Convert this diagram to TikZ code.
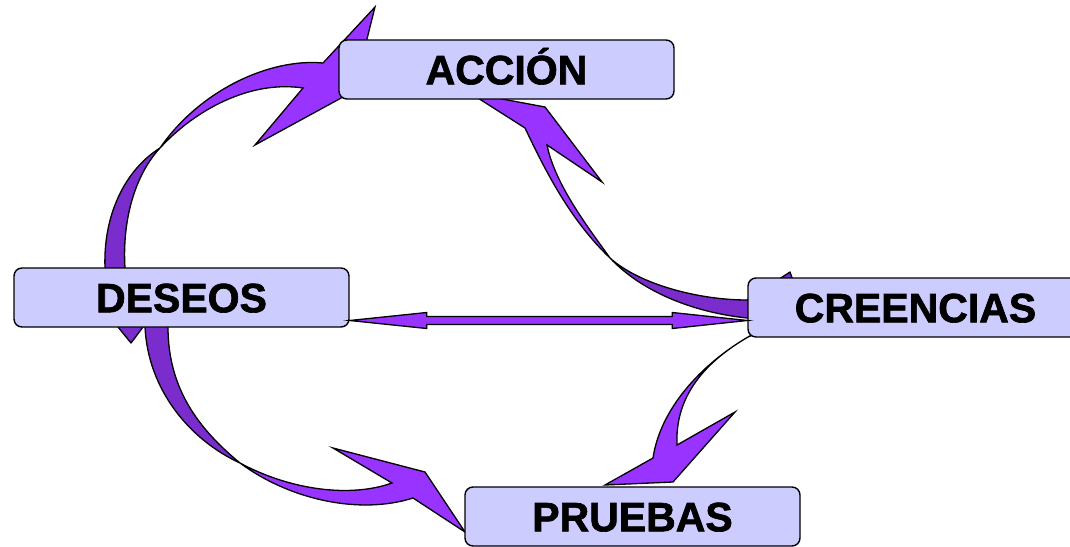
\documentclass[tikz,border=0pt]{standalone}
\usepackage{fontspec}
\setmainfont{Liberation Sans}
\newfontfamily\heavyfont{Liberation Sans}[BoldFeatures={FakeBold=1.6}]
\usetikzlibrary{calc}
\definecolor{boxfill}{HTML}{CCCCFF}
\definecolor{arrlight}{HTML}{9933FF}
\definecolor{arrdark}{RGB}{122,44,204}
\begin{document}
\begin{tikzpicture}[x=1pt,y=-1pt,
  box/.style={draw=black, line width=1.4pt, fill=boxfill, rounded corners=8pt,
    minimum width=335pt, minimum height=59pt, inner sep=0pt,
    font=\fontsize{41}{48}\heavyfont\bfseries, text height=29.5pt, text depth=0pt},
  lightband/.style={draw=black, line width=1.3pt, fill=arrlight, line join=miter},
  darkband/.style={draw=black, line width=1.3pt, fill=arrdark, line join=round}]
\useasboundingbox (0,0) rectangle (1070,546);

% ---- arrow DESEOS -> ACCION (left top)
\filldraw[darkband] (105,268) .. controls (103,215) and (125,170) .. (160,148)
  .. controls (135,175) and (122,220) .. (125,268) -- (143,327) -- (131,343) -- (118,327) -- cycle;
\filldraw[lightband] (160,148) .. controls (200,90) and (270,58) .. (323,63)
  -- (375,7) -- (354,91) -- (255,145) -- (303,88)
  .. controls (250,80) and (195,110) .. (160,148) -- cycle;

% ---- arrow DESEOS -> PRUEBAS (left bottom)
\filldraw[darkband] (143,315) -- (145,327) .. controls (148,390) and (190,440) .. (240,463)
  .. controls (200,430) and (168,390) .. (168,327) -- (167,315) -- cycle;
\filldraw[lightband] (240,463) .. controls (290,500) and (360,515) .. (413,498)
  -- (465,532) -- (425,472) -- (333,448) -- (392,483)
  .. controls (350,498) and (290,490) .. (240,463) -- cycle;

% ---- arrow CREENCIAS -> ACCION (right top)
\filldraw[darkband] (747,318) .. controls (690,312) and (640,290) .. (610,258)
  .. controls (640,285) and (700,300) .. (747,300) -- (790,272) -- (800,300) -- (780,318) -- cycle;
\filldraw[lightband] (610,258) .. controls (570,220) and (545,170) .. (525,128)
  -- (470,93) -- (545,107) -- (602,182) -- (547,145)
  .. controls (555,185) and (590,230) .. (610,258) -- cycle;

% ---- arrow CREENCIAS -> PRUEBAS (right bottom)
\filldraw[lightband] (760,330) -- (748,337) .. controls (700,365) and (660,410) .. (653,458)
  -- (605,485) -- (673,482) -- (735,412) -- (677,445)
  .. controls (675,400) and (700,365) .. (748,337) -- (760,332) -- cycle;

% ---- boxes
\node[box] (accion) at (506.5,69.5) {ACCIÓN};
\node[box] (deseos) at (181.5,297.5) {DESEOS};
\node[box] (creencias) at (915.5,307.5) {CREENCIAS};
\node[box] (pruebas) at (632.5,516.5) {PRUEBAS};

% ---- double arrow DESEOS <-> CREENCIAS
\coordinate (lt) at (deseos.east |- 0,320.5);
\coordinate (rt) at (creencias.west |- 0,320.5);
\filldraw[lightband, line join=miter] (lt) -- ++(77,-8) -- ++(0,4) -- ($(rt)+(-75,-4)$) -- ++(0,-4) -- (rt)
  -- ++(-75,8) -- ++(0,-4) -- ($(lt)+(77,4)$) -- ++(0,4) -- cycle;
\end{tikzpicture}
\end{document}
